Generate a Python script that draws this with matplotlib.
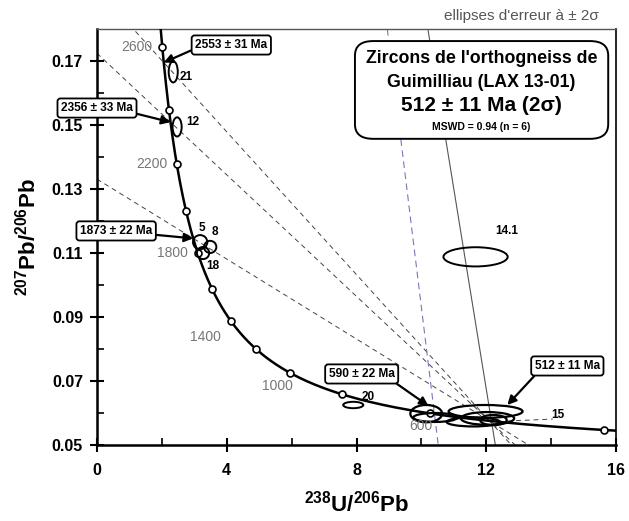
import numpy as np
import matplotlib
matplotlib.use("Agg")
from matplotlib import pyplot as plt
from matplotlib.patches import Ellipse, FancyBboxPatch

plt.rcParams["font.family"] = ["Liberation Sans", "DejaVu Sans"]
plt.rcParams["mathtext.default"] = "regular"

# decay constants (1/yr) and present-day 238U/235U
L238 = 1.55125e-10
L235 = 9.8485e-10
U_RATIO = 137.88

# concordia age marks (Ma) and labelled ones
marker_ages = [400, 600, 800, 1000, 1200, 1400, 1600, 1800, 2000, 2200, 2400, 2600]
label_ages = [600, 1000, 1400, 1800, 2200, 2600]

# analyses: 238U/206Pb, 207Pb/206Pb, half-axes of the 2 sigma ellipses
spot_names = ["21", "12", "5", "8", "18", "20", "14.1"]
spot_x = [2.35, 2.47, 3.18, 3.49, 3.27, 7.90, 11.67]
spot_y = [0.1666, 0.1494, 0.1134, 0.1119, 0.1100, 0.0625, 0.1088]
spot_ex = [0.14, 0.14, 0.22, 0.19, 0.19, 0.31, 0.99]
spot_ey = [0.0033, 0.0030, 0.0022, 0.0019, 0.0019, 0.0010, 0.0030]

# the six concordant analyses used for the 512 Ma age
conc_x = [10.15, 11.98, 11.60, 10.43, 12.04, 12.22]
conc_y = [0.0598, 0.0605, 0.0572, 0.0586, 0.0583, 0.0578]
conc_ex = [0.49, 1.14, 0.82, 0.68, 0.82, 0.41]
conc_ey = [0.0027, 0.0020, 0.0014, 0.0014, 0.0020, 0.0016]

# discordia: upper intercepts (Ma) joined to the lower intercept
upper_ages = [2553, 2356, 1873]
lower_age = 512
callout_texts = ["2553 ± 31 Ma", "2356 ± 33 Ma", "1873 ± 22 Ma"]

# other reference lines (238U/206Pb, 207Pb/206Pb end points)
blue_line_x = [8.95, 10.52]
blue_line_y = [0.18, 0.05]
grey_line_x = [10.20, 12.28]
grey_line_y = [0.18, 0.05]
line15_x = [12.65, 14.05]
line15_y = [0.0575, 0.0581]


def concordia(age_ma):
    t = np.asarray(age_ma, dtype=float) * 1e6
    d238 = np.exp(L238 * t) - 1
    d235 = np.exp(L235 * t) - 1
    return 1 / d238, d235 / d238 / U_RATIO


fig = plt.figure(figsize=(6.29, 5.21), dpi=100)
ax = fig.add_axes([97 / 629, 76 / 521, 519 / 629, 416 / 521])
ax.set_xlim(0, 16)
ax.set_ylim(0.05, 0.18)

# discordia lines
lx, ly = concordia(lower_age)
for age in upper_ages:
    ux, uy = concordia(age)
    slope = (uy - ly) / (ux - lx)
    xs = np.array([0, lx + (0.05 - ly) / slope])
    ax.plot(xs, ly + slope * (xs - lx), ls=(0, (5, 4)), color="#444444", lw=0.7)

ax.plot(line15_x, line15_y, ls=(0, (5, 4)), color="#444444", lw=0.7)
ax.plot(blue_line_x, blue_line_y, ls=(0, (6, 4)), color="#7777bb", lw=0.8)
ax.plot(grey_line_x, grey_line_y, color="#555555", lw=0.8)

# concordia curve
ages = np.linspace(380, 2700, 400)
cx, cy = concordia(ages)
ax.plot(cx, cy, color="black", lw=1.8, zorder=3)
mx, my = concordia(marker_ages)
ax.plot(mx, my, "o", ms=5, mfc="white", mec="black", mew=1.2, zorder=4)

label_offsets = {600: (2, -9), 1000: (1.5, -9), 1400: (-7, -12),
                 1800: (-7, 0), 2200: (-7, 0), 2600: (-7, 0)}
for age in label_ages:
    px, py = concordia(age)
    ax.annotate(str(age), (px, py), xytext=label_offsets[age], textcoords="offset points",
                ha="right", va="center", fontsize=10, color="#777777", zorder=5)

# ellipses
for x, y, ex, ey in zip(spot_x, spot_y, spot_ex, spot_ey):
    ax.add_patch(Ellipse((x, y), 2 * ex, 2 * ey, fill=False, ec="black", lw=1.4, zorder=4))
for x, y, ex, ey in zip(conc_x, conc_y, conc_ex, conc_ey):
    ax.add_patch(Ellipse((x, y), 2 * ex, 2 * ey, fill=False, ec="black", lw=1.6, zorder=4))

spot_label_pos = {"21": (2.75, 0.1650), "12": (2.95, 0.1510), "5": (3.22, 0.1178),
                  "8": (3.62, 0.1167), "18": (3.58, 0.1060), "20": (8.35, 0.0650),
                  "14.1": (12.62, 0.1169)}
for name in spot_names:
    ax.text(*spot_label_pos[name], name, fontsize=8.5, fontweight="bold", ha="center", va="center")
ax.text(14.2, 0.0594, "15", fontsize=8.5, fontweight="bold", ha="center", va="center")

# callouts
box = dict(boxstyle="round,pad=0.3,rounding_size=0.25", fc="white", ec="black", lw=1.3)
arrow = dict(arrowstyle="-|>", color="black", lw=1.6, mutation_scale=13, shrinkA=0, shrinkB=0)
callout_pos = [(4.14, 0.1750), (0.0, 0.1553), (0.59, 0.1169)]
callout_rel = [(0.0, 0.2), (1.0, 0.1), (1.0, 0.2)]
for age, txt, pos, rel in zip(upper_ages, callout_texts, callout_pos, callout_rel):
    ax.annotate(txt, concordia(age), xytext=pos, fontsize=8.6, fontweight="bold",
                ha="center", va="center", bbox=box,
                arrowprops=dict(arrow, relpos=rel), zorder=6, annotation_clip=False)
ax.annotate("590 ± 22 Ma", (10.22, 0.0622), xytext=(8.16, 0.0722), fontsize=8.6,
            fontweight="bold", ha="center", va="center", bbox=box,
            arrowprops=dict(arrow, relpos=(0.95, 0.0)), zorder=6)
ax.annotate("512 ± 11 Ma", (12.65, 0.0625), xytext=(14.5, 0.0747), fontsize=8.6,
            fontweight="bold", ha="center", va="center", bbox=box,
            arrowprops=dict(arrow, relpos=(0.05, 0.0)), zorder=6)

# title box
ax.add_patch(FancyBboxPatch((0.497, 0.736), 0.488, 0.235, transform=ax.transAxes,
                            boxstyle="round,pad=0,rounding_size=0.035", fc="white",
                            ec="black", lw=1.4, zorder=7, clip_on=False))
ax.text(0.741, 0.930, "Zircons de l'orthogneiss de", transform=ax.transAxes,
        fontsize=12.8, fontweight="bold", ha="center", va="center", zorder=8)
ax.text(0.741, 0.872, "Guimilliau (LAX 13-01)", transform=ax.transAxes,
        fontsize=12.8, fontweight="bold", ha="center", va="center", zorder=8)
ax.text(0.741, 0.815, "512 ± 11 Ma (2σ)", transform=ax.transAxes,
        fontsize=15, fontweight="bold", ha="center", va="center", zorder=8)
ax.text(0.741, 0.765, "MSWD = 0.94 (n = 6)", transform=ax.transAxes,
        fontsize=7.5, fontweight="bold", ha="center", va="center", zorder=8)

fig.text(599 / 629, 1 - 16 / 521, "ellipses d'erreur à ± 2σ", fontsize=11,
         color="#555555", ha="right", va="center")

# axes styling
ax.set_xticks([0, 4, 8, 12, 16])
ax.set_xticks([2, 6, 10, 14], minor=True)
ax.set_yticks(np.arange(0.05, 0.171, 0.02))
ax.set_yticks(np.arange(0.06, 0.161, 0.02), minor=True)
ax.set_yticklabels([f"{v:.2f}" for v in np.arange(0.05, 0.171, 0.02)])
ax.tick_params(which="major", direction="inout", length=10, width=1.5, labelsize=11.5, pad=5)
ax.tick_params(which="minor", direction="in", length=5, width=1.2)
ax.tick_params(axis="x", which="major", pad=8)
for lab in ax.get_xticklabels() + ax.get_yticklabels():
    lab.set_fontweight("bold")
ax.spines["left"].set_linewidth(1.8)
ax.spines["bottom"].set_linewidth(1.8)
ax.spines["right"].set_linewidth(1.2)
ax.spines["top"].set_linewidth(1.0)
ax.spines["top"].set_color("#555555")

ax.set_xlabel("$^{238}$U/$^{206}$Pb", fontsize=16, fontweight="bold", labelpad=9)
ax.set_ylabel("$^{207}$Pb/$^{206}$Pb", fontsize=16, fontweight="bold", labelpad=8)

fig.savefig("out.png", dpi=100)
